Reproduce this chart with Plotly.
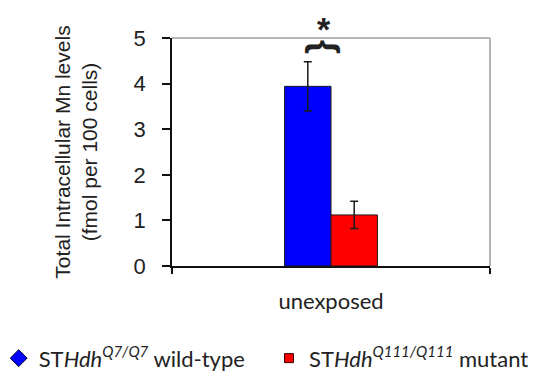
import plotly.graph_objects as go

categories = ["unexposed"]
wt_values = [3.94]
wt_err = [0.54]
mut_values = [1.12]
mut_err = [0.30]
y_ticks = [0, 1, 2, 3, 4, 5]

sup_style = "font-size:15px"
wt_name = f"ST<i>Hdh</i><sup><i><span style='{sup_style}'>Q7/Q7</span></i></sup> wild-type"
mut_name = f"ST<i>Hdh</i><sup><i><span style='{sup_style}'>Q111/Q111</span></i></sup> mutant"

fig = go.Figure()
fig.add_trace(go.Bar(
    x=categories, y=wt_values, name=wt_name, showlegend=False,
    marker=dict(color="#0000ff", line=dict(color="#1a1a1a", width=1)),
    error_y=dict(type="data", array=wt_err, color="#1a1a1a", thickness=1.5, width=4),
))
fig.add_trace(go.Bar(
    x=categories, y=mut_values, name=mut_name, showlegend=False,
    marker=dict(color="#ff0000", line=dict(color="#1a1a1a", width=1)),
    error_y=dict(type="data", array=mut_err, color="#1a1a1a", thickness=1.5, width=4),
))
# legend entries (Excel-style marker keys)
fig.add_trace(go.Scatter(
    x=[None], y=[None], mode="markers", name=wt_name, legend="legend",
    marker=dict(symbol="diamond", size=13, color="#0000ff", line=dict(color="#000033", width=1)),
))
fig.add_trace(go.Scatter(
    x=[None], y=[None], mode="markers", name=mut_name, legend="legend2",
    marker=dict(symbol="square", size=9, color="#ff0000", line=dict(color="#330000", width=1)),
))

legend_font = dict(family="Lato, sans-serif", size=22, color="#222222")

fig.update_layout(
    width=538, height=373,
    margin=dict(l=172, r=48, t=38, b=107, autoexpand=False),
    paper_bgcolor="white", plot_bgcolor="white",
    barmode="group", bargap=0.708, bargroupgap=0,
    font=dict(family="Liberation Sans, Arial, sans-serif", color="#111111"),
    xaxis=dict(
        type="category", range=[-0.5, 0.5], automargin=False,
        tickson="boundaries", ticks="outside", ticklen=6, tickwidth=1.5, tickcolor="#111111",
        showline=True, linecolor="#111111", linewidth=1.5,
        showgrid=False, zeroline=False,
        tickfont=dict(family="Lato, sans-serif", size=22, color="#222222"),
        ticklabelstandoff=15,
    ),
    yaxis=dict(
        range=[0, 5], tickvals=y_ticks, ticks="outside", ticklen=8, tickwidth=1.5,
        tickcolor="#111111", showline=True, linecolor="#111111", linewidth=1.5,
        showgrid=False, zeroline=False, automargin=False,
        tickfont=dict(family="Liberation Sans, Arial, sans-serif", size=22, color="#222222"),
        ticklabelstandoff=12,
        title=dict(
            text="Total Intracellular Mn levels<br>(fmol per 100 cells)",
            font=dict(family="Liberation Sans, Arial, sans-serif", size=21, color="#222222"),
            standoff=30,
        ),
    ),
    legend=dict(
        orientation="h", x=-0.545, xanchor="left", y=-0.405, yanchor="middle",
        font=legend_font, bgcolor="rgba(0,0,0,0)",
    ),
    legend2=dict(
        orientation="h", x=0.305, xanchor="left", y=-0.405, yanchor="middle",
        font=legend_font, bgcolor="rgba(0,0,0,0)",
    ),
    showlegend=True,
)

# light grey top/right frame of the plot area
fig.add_shape(type="line", xref="paper", yref="paper", x0=0, x1=1, y0=1, y1=1,
              line=dict(color="#b5b5b5", width=2))
fig.add_shape(type="line", xref="paper", yref="paper", x0=1, x1=1, y0=0, y1=1,
              line=dict(color="#b5b5b5", width=2))

# significance brace and asterisk
fig.add_annotation(x=-0.015, y=4.8, xref="x", yref="y", text="<b>{</b>", textangle=90,
                   showarrow=False, font=dict(family="Liberation Sans, Arial", size=36, color="#222222"))
fig.add_annotation(x=0.478, y=1.04, xref="paper", yref="paper", text="<b>*</b>",
                   xanchor="center", yanchor="middle",
                   showarrow=False, font=dict(family="Liberation Sans, Arial", size=34, color="#222222"))

fig.write_html("out.html")
